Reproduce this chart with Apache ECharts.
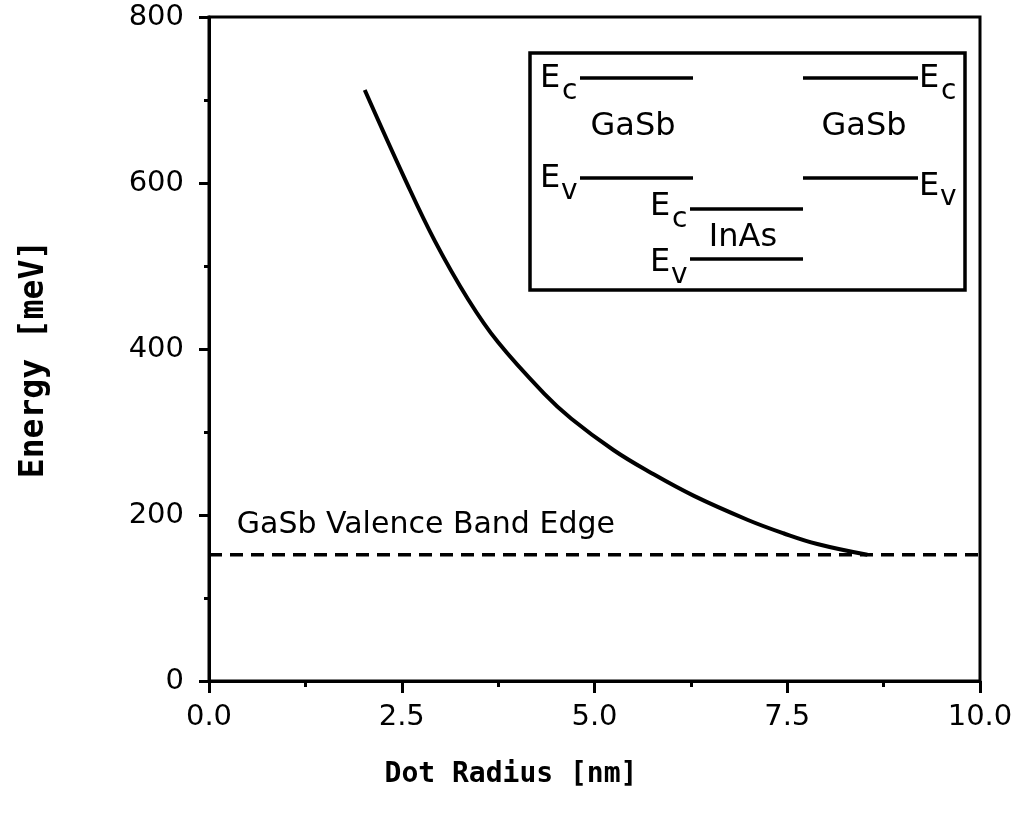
<!DOCTYPE html>
<html>
<head>
<meta charset="utf-8">
<script src="https://cdn.jsdelivr.net/npm/echarts@6/dist/echarts.min.js"></script>
<style>
html,body{margin:0;padding:0;background:#fff;}
#chart{width:1019px;height:817px;}
</style>
</head>
<body>
<div id="chart"></div>
<script>
// Data
var radius = [2.02, 2.54, 2.93, 3.36, 3.75, 4.35, 4.70, 5.25, 5.73, 6.29, 6.99, 7.45, 7.89, 8.54];
var energy = [712, 605, 530, 460, 408, 346, 316, 278, 251, 223, 194, 178, 165, 152];
var bandEdgeX = [0, 10];
var bandEdgeY = [152, 152];
var xTicks = [0, 2.5, 5, 7.5, 10];
var yTicks = [0, 200, 400, 600, 800];

var curve = radius.map(function (x, i) { return [x, energy[i]]; });
var edge = bandEdgeX.map(function (x, i) { return [x, bandEdgeY[i]]; });

var chart = echarts.init(document.getElementById('chart'));
var tickFont = 'DejaVu Sans';
var insetFont = '32px "DejaVu Sans"';
var subFont = '28px "DejaVu Sans"';

function txt(text, x, y, font, align, valign) {
  return { type: 'text', x: x, y: y, z: 10,
    style: { text: text, font: font, fill: '#000', align: align || 'left', verticalAlign: valign || 'top' } };
}
function hline(x1, x2, y, w) {
  return { type: 'line', z: 10, shape: { x1: x1, y1: y, x2: x2, y2: y },
    style: { stroke: '#000', lineWidth: w || 3.5 } };
}

var inset = [
  { type: 'rect', z: 9, shape: { x: 530, y: 53, width: 435, height: 237 },
    style: { fill: '#fff', stroke: '#000', lineWidth: 3.5 } },
  hline(580, 693, 78), hline(803, 918, 78),
  hline(580, 693, 178), hline(803, 918, 178),
  hline(690, 803, 209), hline(690, 803, 259),
  txt('E', 540, 63, insetFont), txt('c', 562, 78, subFont),
  txt('E', 540, 163, insetFont), txt('v', 561, 178, subFont),
  txt('E', 919, 63, insetFont), txt('c', 941, 78, subFont),
  txt('E', 919, 171, insetFont), txt('v', 940, 184, subFont),
  txt('E', 650, 191, insetFont), txt('c', 672, 206, subFont),
  txt('E', 650, 247, insetFont), txt('v', 671, 262, subFont),
  txt('GaSb', 633, 127, insetFont, 'center', 'middle'),
  txt('GaSb', 864, 127, insetFont, 'center', 'middle'),
  txt('InAs', 743, 238, insetFont, 'center', 'middle')
];

var titles = [
  { type: 'text', x: 511, y: 775, z: 10,
    style: { text: 'Dot Radius [nm]', font: 'bold 28px "DejaVu Sans Mono"', fill: '#000', align: 'center', verticalAlign: 'middle' } },
  { type: 'text', x: 34, y: 359, rotation: Math.PI / 2, z: 10,
    style: { text: 'Energy [meV]', font: 'bold 33px "DejaVu Sans Mono"', fill: '#000', align: 'center', verticalAlign: 'middle' } }
];

chart.setOption({
  animation: false,
  backgroundColor: '#fff',
  grid: { left: 209, right: 39, top: 17, bottom: 136, show: true, borderColor: '#000', borderWidth: 3, backgroundColor: 'transparent' },
  xAxis: {
    type: 'value', min: xTicks[0], max: xTicks[xTicks.length - 1], interval: 2.5,
    axisLine: { show: true, onZero: false, lineStyle: { color: '#000', width: 3 } },
    axisTick: { show: true, inside: false, length: 12, lineStyle: { color: '#000', width: 3 } },
    minorTick: { show: true, splitNumber: 2, length: 6, lineStyle: { color: '#000', width: 3 } },
    splitLine: { show: false },
    axisLabel: { margin: 22, color: '#000', fontFamily: tickFont, fontSize: 29,
      formatter: function (v) { return v.toFixed(1); } }
  },
  yAxis: {
    type: 'value', min: yTicks[0], max: yTicks[yTicks.length - 1], interval: 200,
    axisLine: { show: true, onZero: false, lineStyle: { color: '#000', width: 3 } },
    axisTick: { show: true, inside: false, length: 10, lineStyle: { color: '#000', width: 3 } },
    minorTick: { show: true, splitNumber: 2, length: 5, lineStyle: { color: '#000', width: 3 } },
    splitLine: { show: false },
    axisLabel: { margin: 25, color: '#000', fontFamily: tickFont, fontSize: 29 }
  },
  series: [
    { type: 'line', data: curve, smooth: 0.4, symbol: 'none', lineStyle: { color: '#000', width: 4 }, z: 3 },
    { type: 'line', data: edge, symbol: 'none', lineStyle: { color: '#000', width: 3.5, type: [13, 8] }, z: 2 }
  ],
  graphic: inset.concat(titles)
});

var p = chart.convertToPixel({ gridIndex: 0 }, [0.36, 152]);
chart.setOption({ graphic: inset.concat(titles).concat([
  { type: 'text', x: p[0], y: p[1] - 15, z: 10,
    style: { text: 'GaSb Valence Band Edge', font: '30px "DejaVu Sans"', fill: '#000', align: 'left', verticalAlign: 'bottom' } }
]) });
</script>
</body>
</html>
